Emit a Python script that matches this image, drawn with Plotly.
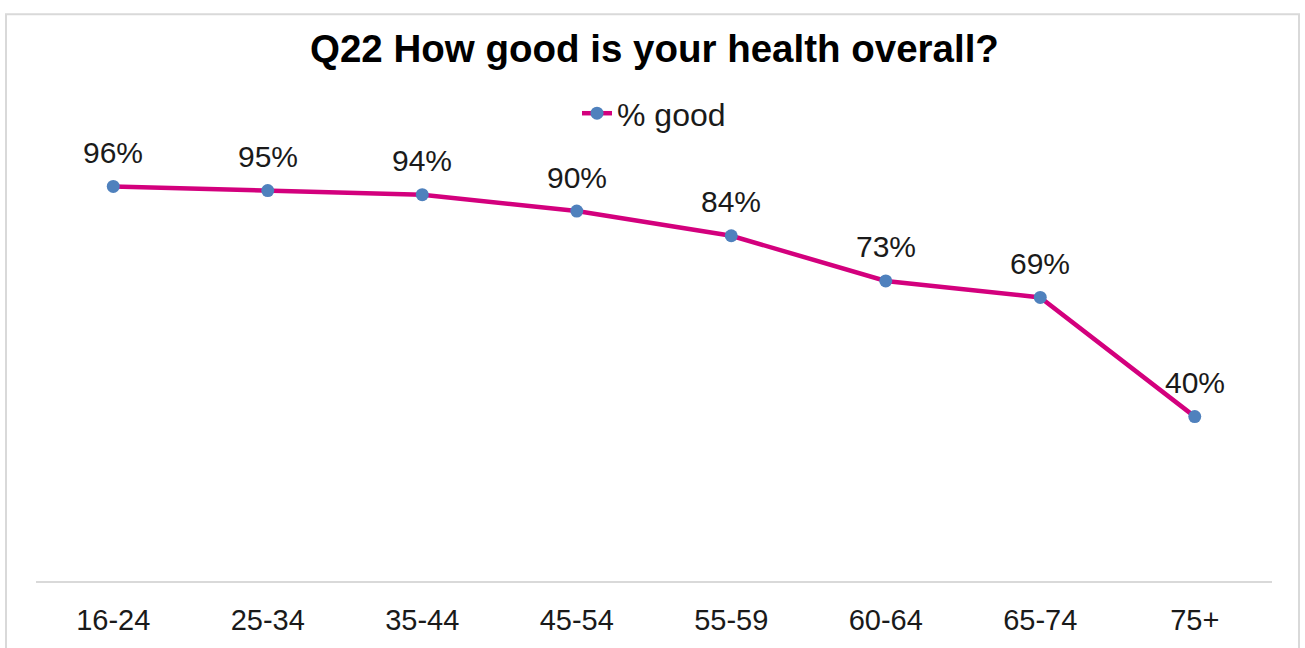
import plotly.graph_objects as go

categories = ["16-24", "25-34", "35-44", "45-54", "55-59", "60-64", "65-74", "75+"]
pct_good = [0.96, 0.95, 0.94, 0.90, 0.84, 0.73, 0.69, 0.40]
label_text = ["96%", "95%", "94%", "90%", "84%", "73%", "69%", "40%"]
title_text = "Q22 How good is your health overall?"
series_name = "% good"

LINE = "#D3007D"
MARK = "#4F81BD"
FONT = "Liberation Sans, Arial, sans-serif"

fig = go.Figure()
fig.add_trace(go.Scatter(
    x=categories, y=pct_good, name=series_name, mode="lines+markers",
    line=dict(color=LINE, width=4.5),
    marker=dict(color=MARK, size=13),
    cliponaxis=False,
))

for c, v, t in zip(categories, pct_good, label_text):
    fig.add_annotation(x=c, y=v, text=t, showarrow=False, yshift=34,
                       font=dict(family=FONT, size=30, color="#1a1a1a"))

fig.add_annotation(xref="paper", yref="paper", x=0.5, y=(584 - 48) / 414,
                   text="<b>" + title_text + "</b>", showarrow=False,
                   xanchor="center", yanchor="middle",
                   font=dict(family=FONT, size=38.5, color="#000000"))

# outer chart border
fig.add_shape(type="rect", xref="paper", yref="paper",
              x0=(6 - 36) / 1236, x1=(1299 - 36) / 1236,
              y0=-0.3, y1=(584 - 13) / 414,
              line=dict(color="#D9D9D9", width=2), fillcolor="rgba(0,0,0,0)")

fig.update_layout(
    width=1305, height=648,
    margin=dict(l=36, r=33, t=170, b=64),
    paper_bgcolor="white", plot_bgcolor="white",
    showlegend=True,
    legend=dict(orientation="h", x=0.5, xanchor="center",
                y=(584 - 113) / 414, yanchor="middle",
                font=dict(family=FONT, size=32, color="#1a1a1a"),
                bgcolor="rgba(0,0,0,0)"),
    font=dict(family=FONT),
)
fig.update_xaxes(range=[-0.5, len(categories) - 0.5],
                 showgrid=False, showline=True, linecolor="#D9D9D9", linewidth=2,
                 ticks="", tickfont=dict(family=FONT, size=29, color="#1a1a1a"),
                 ticklabelstandoff=12, zeroline=False)
fig.update_yaxes(range=[0, 1], visible=False, showgrid=False, zeroline=False)

fig.write_html("out.html", config={"displayModeBar": False},
               post_script="document.body.style.margin='0';")
